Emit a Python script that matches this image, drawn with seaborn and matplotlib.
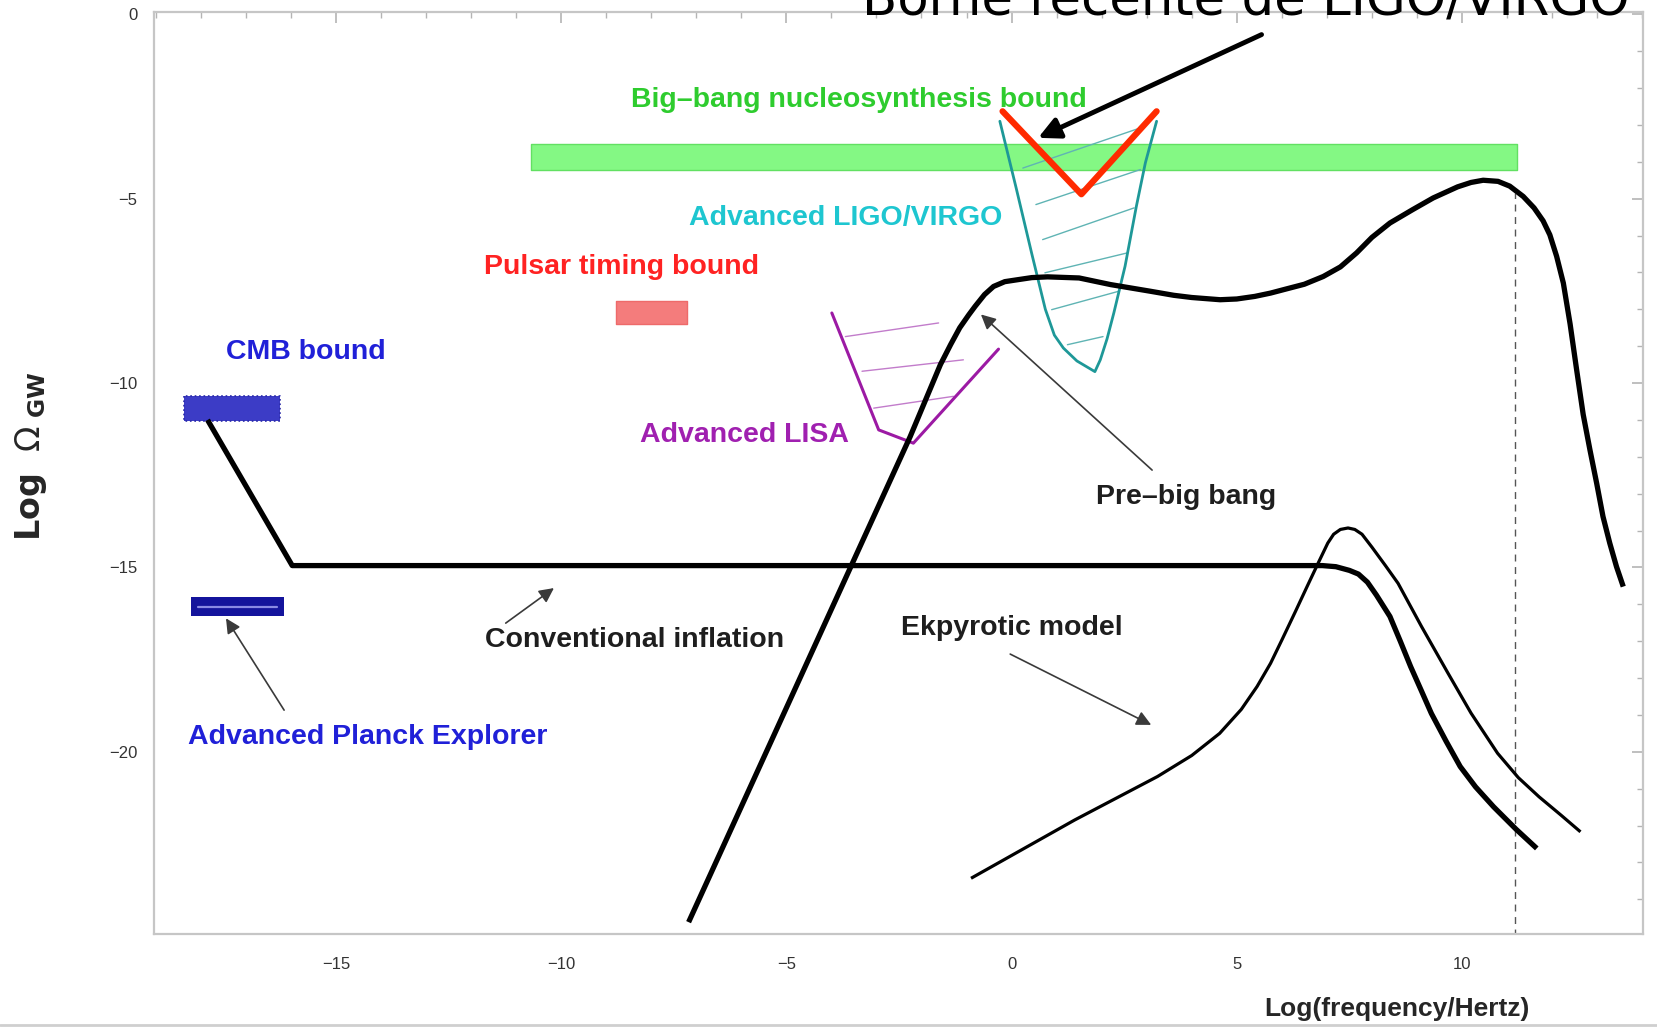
import matplotlib
matplotlib.use("Agg")
import matplotlib.pyplot as plt
from matplotlib.ticker import MultipleLocator
from matplotlib.lines import Line2D
import pandas as pd
import seaborn as sns

# ---- spectra: log10(f / Hz) versus log10(Omega_GW) ----
infl_x = [-17.85, -15.97, 6.90, 7.20, 7.50, 7.70, 7.90, 8.10, 8.40, 8.63, 8.86, 9.10, 9.32, 9.65,
          9.96, 10.30, 10.70, 11.20, 11.66]
infl_y = [-11.00, -14.95, -14.95, -14.98, -15.08, -15.18, -15.40, -15.75, -16.33, -17.00, -17.69,
          -18.35, -18.96, -19.72, -20.40, -20.95, -21.49, -22.10, -22.62]

pbb_x = [-7.17, -2.25, -1.58, -1.35, -1.15, -0.95, -0.81, -0.60, -0.40, -0.15, 0.12, 0.45, 0.80,
         1.50, 2.20, 3.08, 3.60, 4.00, 4.63, 5.00, 5.40, 5.75, 6.03, 6.50, 6.92, 7.30, 7.66, 8.00,
         8.40, 8.90, 9.36, 9.90, 10.20, 10.47, 10.80, 11.06, 11.36, 11.60, 11.80, 11.95, 12.10,
         12.25, 12.40, 12.54, 12.69, 12.84, 12.99, 13.13, 13.28, 13.43, 13.58]
pbb_y = [-24.62, -11.45, -9.50, -8.95, -8.50, -8.15, -7.92, -7.60, -7.38, -7.25, -7.20, -7.14, -7.12,
         -7.15, -7.33, -7.51, -7.62, -7.68, -7.74, -7.72, -7.65, -7.56, -7.47, -7.32, -7.11, -6.85,
         -6.47, -6.05, -5.66, -5.30, -4.98, -4.68, -4.56, -4.50, -4.53, -4.66, -4.94, -5.25, -5.60,
         -5.98, -6.56, -7.29, -8.40, -9.60, -10.85, -11.81, -12.72, -13.62, -14.34, -14.98, -15.52]

ekp_x = [-0.90, 1.40, 3.24, 4.00, 4.62, 5.10, 5.45, 5.75, 6.00, 6.30, 6.56, 6.80, 7.02, 7.15, 7.30,
         7.47, 7.62, 7.78, 8.00, 8.30, 8.58, 9.10, 9.69, 10.20, 10.79, 11.25, 11.71, 12.20, 12.63]
ekp_y = [-23.43, -21.85, -20.67, -20.10, -19.50, -18.85, -18.23, -17.60, -16.97, -16.20, -15.52,
         -14.90, -14.34, -14.10, -13.97, -13.93, -13.97, -14.10, -14.45, -14.95, -15.43, -16.60,
         -17.87, -18.95, -20.04, -20.70, -21.22, -21.72, -22.17]

# ---- detector sensitivities and bounds ----
ligo_x = [-0.26, 0.10, 0.45, 0.75, 0.95, 1.15, 1.45, 1.85, 1.97, 2.12, 2.27, 2.52, 2.77, 2.97, 3.22]
ligo_y = [-2.90, -4.70, -6.50, -8.00, -8.70, -9.05, -9.40, -9.69, -9.37, -8.80, -8.10, -6.83, -5.21, -4.03, -2.90]
ligo_hatch = [((0.25, 2.86), (-4.17, -3.08)),
              ((0.54, 2.86), (-5.16, -4.21)),
              ((0.69, 2.72), (-6.11, -5.25)),
              ((0.74, 2.57), (-7.01, -6.47)),
              ((0.89, 2.38), (-8.01, -7.51)),
              ((1.24, 2.03), (-8.96, -8.74))]

lisa_x = [-3.99, -2.95, -2.18, -0.29]
lisa_y = [-8.10, -11.27, -11.63, -9.08]
lisa_hatch = [((-3.69, -1.62), (-8.74, -8.37)),
              ((-3.32, -1.07), (-9.68, -9.37)),
              ((-3.06, -1.29), (-10.68, -10.36))]

recent_x = [-0.20, 1.55, 3.22]
recent_y = [-2.63, -4.88, -2.63]

bbn_x = [-10.67, 11.21]
bbn_lo, bbn_hi = -4.21, -3.53
pulsar_x = [-8.79, -7.20]
pulsar_lo, pulsar_hi = -8.40, -7.77
cmb_x = [-18.38, -16.24]
cmb_lo, cmb_hi = -11.02, -10.34
planck_x = [-18.21, -16.15]
planck_lo, planck_hi = -16.31, -15.81
string_cutoff_x = 11.17
string_cutoff_top = -4.85

xticks = [-15, -10, -5, 0, 5, 10]
yticks = [0, -5, -10, -15, -20]

sns.set_style("white")
plt.rcParams["font.family"] = ["Liberation Sans", "DejaVu Sans"]
plt.rcParams["mathtext.fontset"] = "dejavusans"

fig = plt.figure(figsize=(16.57, 10.29), dpi=100)
ax = fig.add_axes([0.0929, 0.0920, 0.8987, 0.8966])


def curve(x, y, **kw):
    df = pd.DataFrame({"x": x, "y": y})
    sns.lineplot(data=df, x="x", y="y", sort=False, estimator=None, ax=ax,
                 legend=False, **kw)


# boxes
ax.fill_between(bbn_x, bbn_lo, bbn_hi, color="#84f884", edgecolor="#62e062", lw=1, zorder=1)
ax.fill_between(pulsar_x, pulsar_lo, pulsar_hi, color="#f47c7c", edgecolor="#ee6a6a", lw=1, zorder=1)
ax.fill_between(cmb_x, cmb_lo, cmb_hi, color="#3c3cc6", edgecolor="#2a2aa8", lw=1.2,
                linestyle=":", zorder=3)
ax.fill_between(planck_x, planck_lo, planck_hi, color="#14149c", lw=0, zorder=3)
ax.plot([planck_x[0] + 0.15, planck_x[1] - 0.15], [(planck_lo + planck_hi) / 2] * 2,
        color="#8a8ae4", lw=1.6, zorder=4)

# hatching inside the sensitivity curves
for hx, hy in ligo_hatch:
    curve(list(hx), list(hy), color="#5fb4b4", linewidth=1.0, zorder=2)
for hx, hy in lisa_hatch:
    curve(list(hx), list(hy), color="#c27ccb", linewidth=1.0, zorder=2)

curve(ligo_x, ligo_y, color="#1e9898", linewidth=2.0, zorder=3)
curve(lisa_x, lisa_y, color="#9c1aa4", linewidth=2.2, zorder=3)

# model spectra
line_kw = dict(solid_joinstyle="round", solid_capstyle="butt")
curve(infl_x, infl_y, color="black", linewidth=3.8, zorder=5, **line_kw)
curve(pbb_x, pbb_y, color="black", linewidth=3.8, zorder=5, **line_kw)
curve(ekp_x, ekp_y, color="black", linewidth=2.3, zorder=5, **line_kw)
ax.vlines(string_cutoff_x, -25, string_cutoff_top, colors="#555555", linestyles=(0, (5, 4)),
          lw=1.0, zorder=2)

# recent LIGO/VIRGO bound
curve(recent_x, recent_y, color="#ff2a00", linewidth=4.5, zorder=6)

# labels
lab = dict(fontsize=20.5, fontweight="bold", ha="center", va="center", zorder=7)
ax.text(-3.40, -2.32, "Big\u2013bang nucleosynthesis bound", color="#2ecc2e", **lab)
ax.text(-3.68, -5.53, "Advanced LIGO/VIRGO", color="#1ec6d0", **lab)
ax.text(-8.65, -6.85, "Pulsar timing bound", color="#ff2222", **lab)
ax.text(-15.66, -9.15, "CMB bound", color="#2020d8", **lab)
ax.text(-5.93, -11.41, "Advanced LISA", color="#a020b0", **lab)
ax.text(3.87, -13.08, "Pre\u2013big bang", color="#1e1e1e", **lab)
ax.text(-8.37, -16.98, "Conventional inflation", color="#1e1e1e", **lab)
ax.text(0.0, -16.63, "Ekpyrotic model", color="#1e1e1e", **lab)
ax.text(-14.30, -19.59, "Advanced Planck Explorer", color="#2020d8", **lab)

thin = dict(arrowstyle="-|>", color="#3a3a3a", lw=1.2, mutation_scale=22, shrinkA=0, shrinkB=0)
ax.annotate("", xy=(-0.68, -8.14), xytext=(3.12, -12.36), arrowprops=thin, zorder=6)
ax.annotate("", xy=(-10.16, -15.56), xytext=(-11.23, -16.51), arrowprops=thin, zorder=6)
ax.annotate("", xy=(3.10, -19.27), xytext=(-0.03, -17.35), arrowprops=thin, zorder=6)
ax.annotate("", xy=(-17.44, -16.38), xytext=(-16.15, -18.87), arrowprops=thin, zorder=6)
ax.annotate("", xy=(0.59, -3.35), xytext=(5.55, -0.55), annotation_clip=False,
            arrowprops=dict(arrowstyle="-|>", color="black", lw=3.5, mutation_scale=32,
                            shrinkA=0, shrinkB=0), zorder=8)

# axes styling
ax.set_xlim(-19.04, 14.02)
ax.set_ylim(-24.95, 0.07)
ax.set_xticks(xticks)
ax.set_yticks(yticks)
ax.xaxis.set_minor_locator(MultipleLocator(1))
ax.yaxis.set_minor_locator(MultipleLocator(1))
ax.tick_params(which="both", direction="in", top=True, right=True, color="#b4b4b4")
ax.tick_params(which="major", length=8, width=1.2, labelsize=12, labelcolor="#333333")
ax.tick_params(which="minor", length=4, width=1.0)
ax.tick_params(axis="x", pad=16)
ax.tick_params(axis="y", pad=12)
for s in ax.spines.values():
    s.set_color("#c6c6c6")
    s.set_linewidth(1.6)

ax.set_xlabel("Log(frequency/Hertz)", fontsize=19, fontweight="bold", va="center")
ax.xaxis.set_label_coords(0.835, -0.081)
ax.set_ylabel("")
fig.text(0.019, 0.557, r"$\mathbf{Log}\ \ \Omega_{\ \mathbf{GW}}$", rotation=90,
         fontsize=24, ha="center", va="center")

fig.text(0.52, 1 - 15 / 1029, "Borne r\u00e9cente de LIGO/VIRGO", fontsize=37,
         family="DejaVu Sans", ha="left", va="baseline", color="black")
fig.add_artist(Line2D([0, 1], [0.004, 0.004], color="#cfcfcf", lw=2))

fig.savefig("out.png", dpi=100)
